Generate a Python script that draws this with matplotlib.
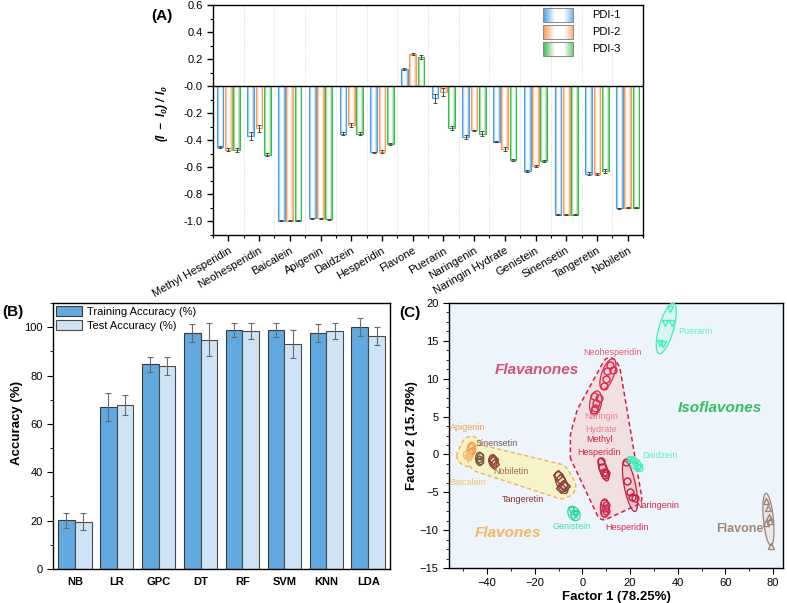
import numpy as np
import matplotlib
matplotlib.use('Agg')
import matplotlib.pyplot as plt
from matplotlib.patches import Polygon, Rectangle
from matplotlib.ticker import MultipleLocator
from matplotlib.colors import to_rgb

plt.rcParams['font.family'] = ['Liberation Sans', 'DejaVu Sans']
plt.rcParams['mathtext.fontset'] = 'custom'
plt.rcParams['mathtext.rm'] = 'Liberation Sans:italic:bold'
plt.rcParams['mathtext.it'] = 'Liberation Sans:italic:bold'
plt.rcParams['axes.linewidth'] = 1.0

# ---------------- Panel A data ----------------
compounds = ['Methyl Hesperidin', 'Neohesperidin', 'Baicalein', 'Apigenin', 'Daidzein',
             'Hesperidin', 'Flavone', 'Puerarin', 'Naringenin', 'Naringin Hydrate',
             'Genistein', 'Sinensetin', 'Tangeretin', 'Nobiletin']
pdi1 = [-0.45, -0.37, -0.995, -0.975, -0.35, -0.49, 0.128, -0.09, -0.375, -0.41, -0.627, -0.951, -0.646, -0.904]
pdi2 = [-0.47, -0.31, -0.995, -0.975, -0.285, -0.485, 0.238, -0.045, -0.327, -0.465, -0.59, -0.951, -0.651, -0.90]
pdi3 = [-0.47, -0.505, -0.995, -0.985, -0.35, -0.43, 0.215, -0.31, -0.35, -0.545, -0.553, -0.951, -0.627, -0.897]
err1 = [0.005, 0.03, 0.003, 0.004, 0.01, 0.005, 0.005, 0.035, 0.015, 0.006, 0.005, 0.003, 0.008, 0.004]
err2 = [0.01, 0.025, 0.003, 0.004, 0.015, 0.012, 0.01, 0.03, 0.005, 0.015, 0.01, 0.003, 0.008, 0.004]
err3 = [0.015, 0.01, 0.003, 0.004, 0.012, 0.008, 0.012, 0.015, 0.02, 0.008, 0.01, 0.003, 0.015, 0.004]
pdi_names = ['PDI-1', 'PDI-2', 'PDI-3']
pdi_colors = ['#4a9de0', '#f59a58', '#3cbb4c']

# ---------------- Panel B data ----------------
models = ['NB', 'LR', 'GPC', 'DT', 'RF', 'SVM', 'KNN', 'LDA']
train_acc = [20.1, 66.8, 84.6, 97.7, 98.9, 98.9, 97.7, 100.0]
train_err = [3.0, 5.8, 3.0, 3.7, 3.0, 3.0, 3.7, 3.7]
test_acc = [19.6, 67.7, 83.9, 94.8, 98.4, 93.1, 98.4, 96.3]
test_err = [3.6, 4.2, 3.6, 6.8, 3.4, 5.9, 3.4, 3.6]

# ---------------- Panel C data (factor scores) ----------------
puerarin_f1 = [36.9, 34.8, 37.8, 32.7, 33.8]
puerarin_f2 = [19.2, 17.4, 17.3, 14.7, 14.6]
neohesperidin_f1 = [11.5, 12.9, 10.3, 9.8, 9.0]
neohesperidin_f2 = [11.85, 11.2, 11.0, 9.9, 9.1]
naringin_hydrate_f1 = [4.9, 6.9, 5.9, 5.2, 4.8]
naringin_hydrate_f2 = [7.75, 7.4, 6.8, 6.1, 5.9]
methyl_hesperidin_f1 = [7.7, 8.4, 9.0, 9.4, 9.8]
methyl_hesperidin_f2 = [-0.9, -1.6, -2.3, -2.7, -2.5]
naringenin_f1 = [18.5, 18.7, 19.9, 20.8, 22.0]
naringenin_f2 = [-1.05, -3.55, -5.0, -5.6, -5.8]
hesperidin_f1 = [9.0, 9.8, 9.4, 9.8, 9.0]
hesperidin_f2 = [-6.4, -6.7, -7.1, -7.5, -7.7]
daidzein_f1 = [20.1, 21.3, 22.7, 23.8, 21.9, 23.4]
daidzein_f2 = [-0.7, -0.9, -1.1, -1.6, -1.4, -1.8]
genistein_f1 = [-4.6, -3.2, -3.9, -2.5]
genistein_f2 = [-7.3, -7.8, -8.2, -7.9]
flavone_f1 = [77.2, 77.9, 78.3, 78.6, 77.2, 79.3]
flavone_f2 = [-6.2, -7.1, -8.2, -8.8, -9.1, -12.1]
apigenin_f1 = [-46.6, -46.2, -47.0]
apigenin_f2 = [1.07, 0.63, 0.4]
baicalein_f1 = [-48.0, -47.4, -48.5]
baicalein_f2 = [0.0, -0.3, -0.15]
sinensetin_f1 = [-43.1, -43.0, -43.4]
sinensetin_f2 = [-0.25, -0.9, -0.6]
nobiletin_f1 = [-37.5, -37.7, -37.3]
nobiletin_f2 = [-0.9, -0.6, -1.2]
tangeretin_f1 = [-10.2, -9.5, -8.1, -8.8, -7.4]
tangeretin_f2 = [-2.7, -3.3, -4.0, -4.4, -4.2]

fig = plt.figure(figsize=(7.87, 6.03), dpi=100)
W, H = 787.0, 603.0


def rect(l, r, t, b):
    return [l / W, 1 - b / H, (r - l) / W, (b - t) / H]


def grad_img(color, n=64):
    c = np.array(to_rgb(color))
    t = np.linspace(0, 1, n)
    w = np.maximum(np.clip(1 - t / 0.38, 0, 1), np.clip((t - 0.68) / 0.32, 0, 1) * 0.8)
    rgb = c[None, :] * w[:, None] + (1 - w[:, None])
    return rgb[None, :, :]


# ================= Panel A =================
axA = fig.add_axes(rect(213, 643, 5, 235))
xA = np.arange(len(compounds))
bw = 0.22
offs = [-0.27, 0.0, 0.27]
for vals, errs, col, off in zip([pdi1, pdi2, pdi3], [err1, err2, err3], pdi_colors, offs):
    bars = axA.bar(xA + off, vals, width=bw, facecolor='none', edgecolor=col, lw=0.8, zorder=3)
    for b in bars:
        x0, y0, w, h = b.get_x(), b.get_y(), b.get_width(), b.get_height()
        im = axA.imshow(grad_img(col), extent=[x0, x0 + w, min(y0, y0 + h), max(y0, y0 + h)],
                        aspect='auto', zorder=2, interpolation='bilinear')
        im.set_clip_path(b)
    axA.errorbar(xA + off, vals, yerr=errs, fmt='none', ecolor='#333333', elinewidth=0.6,
                 capsize=1.5, capthick=0.6, zorder=4)
axA.axhline(0, color='black', lw=1.0, zorder=5)
for xv in np.arange(-0.5, len(compounds), 1.0):
    axA.axvline(xv, color='#d0d0d0', lw=0.6, ls=':', zorder=1)
axA.set_yticks(np.arange(-1.0, 0.61, 0.2))
axA.set_yticklabels(['%.1f' % v for v in np.arange(-1.0, 0.61, 0.2)], fontsize=8)
axA.yaxis.set_minor_locator(MultipleLocator(0.1))
axA.set_xticks(xA)
axA.set_xticks(np.arange(-0.5, len(compounds), 1.0), minor=True)
axA.set_xticklabels(compounds, rotation=30, ha='right', rotation_mode='anchor', fontsize=8)
axA.tick_params(axis='both', which='major', direction='out', length=4, width=1)
axA.tick_params(axis='both', which='minor', direction='out', length=2.5, width=0.8)
axA.set_ylabel(r'$(I\ -\ I_0)\ /\ I_0$', fontsize=8.5)
axA.yaxis.set_label_coords(-0.1, 0.53)
# legend (manual, gradient patches)
for i, (nm, col) in enumerate(zip(pdi_names, pdi_colors)):
    ytop = 1 - (8 + 17 * i - 5) / 230.0
    ybot = 1 - (22 + 17 * i - 5) / 230.0
    im = axA.imshow(grad_img(col), extent=[0.767, 0.837, ybot, ytop], transform=axA.transAxes,
                    aspect='auto', zorder=6, interpolation='bilinear')
    axA.add_patch(Rectangle((0.767, ybot), 0.07, ytop - ybot, transform=axA.transAxes,
                            facecolor='none', edgecolor='#888888', lw=0.7, zorder=7))
    axA.text(0.881, (ytop + ybot) / 2, nm, transform=axA.transAxes, fontsize=8, va='center', ha='left')
axA.set_xlim(-0.5, len(compounds) - 0.5)
axA.set_ylim(-1.1, 0.6)
fig.text(162 / W, 1 - 16 / H, '(A)', fontsize=11, fontweight='bold', ha='center', va='center')

# ================= Panel B =================
axB = fig.add_axes(rect(53, 390, 303, 569))
xB = np.arange(len(models))
axB.bar(xB - 0.2, train_acc, width=0.4, color='#62a9e0', edgecolor='#3a3a3a', lw=0.8,
        label='Training Accuracy (%)', zorder=2)
axB.bar(xB + 0.2, test_acc, width=0.4, color='#cfe3f6', edgecolor='#4a4a4a', lw=0.8,
        label='Test Accuracy (%)', zorder=2)
axB.errorbar(xB - 0.2, train_acc, yerr=train_err, fmt='none', ecolor='#6a6a6a', elinewidth=0.8,
             capsize=2.5, capthick=0.8, zorder=3)
axB.errorbar(xB + 0.2, test_acc, yerr=test_err, fmt='none', ecolor='#6a6a6a', elinewidth=0.8,
             capsize=2.5, capthick=0.8, zorder=3)
axB.set_xlim(-0.52, len(models) - 0.48)
axB.set_ylim(0, 110)
axB.set_xticks(xB)
axB.set_xticklabels(models, fontsize=8, fontweight='bold')
axB.yaxis.set_major_locator(MultipleLocator(20))
axB.yaxis.set_minor_locator(MultipleLocator(10))
axB.tick_params(axis='y', labelsize=8)
axB.tick_params(axis='both', which='major', direction='out', length=4)
axB.tick_params(axis='x', which='major', length=0, pad=6)
axB.tick_params(axis='both', which='minor', direction='out', length=2.5)
axB.set_ylabel('Accuracy (%)', fontsize=9.5, fontweight='bold')
axB.yaxis.set_label_coords(-0.09, 0.55)
axB.legend(loc='upper left', frameon=False, fontsize=8, handlelength=2.4, handleheight=1.1,
           borderaxespad=0.15, borderpad=0.1, labelspacing=0.25, handletextpad=0.4)
fig.text(13 / W, 1 - 312 / H, '(B)', fontsize=11, fontweight='bold', ha='center', va='center')

# ================= Panel C =================
axC = fig.add_axes(rect(449, 783, 303, 568))
axC.set_facecolor('#eef4fb')
axC.set_xlim(-56, 84.2)
axC.set_ylim(-15, 20)
renderer = fig.canvas.get_renderer()


def pix(xs, ys):
    return axC.transData.transform(np.column_stack([xs, ys]))


def unpix(P):
    return axC.transData.inverted().transform(P)


def convex_hull(P):
    pts = sorted(map(tuple, P))
    def cross(o, a, b):
        return (a[0] - o[0]) * (b[1] - o[1]) - (a[1] - o[1]) * (b[0] - o[0])
    lower, upper = [], []
    for p in pts:
        while len(lower) >= 2 and cross(lower[-2], lower[-1], p) <= 0:
            lower.pop()
        lower.append(p)
    for p in reversed(pts):
        while len(upper) >= 2 and cross(upper[-2], upper[-1], p) <= 0:
            upper.pop()
        upper.append(p)
    return np.array(lower[:-1] + upper[:-1])


def envelope_pix(P, pad):
    th = np.linspace(0, 2 * np.pi, 48, endpoint=False)
    circ = np.stack([np.cos(th), np.sin(th)], 1)
    Q = (P[:, None, :] + pad * circ[None]).reshape(-1, 2)
    return unpix(convex_hull(Q))


def cluster_ellipse(xs, ys, nstd=1.5, pad=3.0, minr=4.0):
    P = pix(xs, ys)
    m = P.mean(0)
    C = np.cov(P.T)
    vals, vecs = np.linalg.eigh(C)
    r = np.sqrt(np.maximum(vals, 0)) * nstd + pad
    r = np.maximum(r, minr)
    th = np.linspace(0, 2 * np.pi, 120)
    E = m + (vecs @ np.vstack([r[0] * np.cos(th), r[1] * np.sin(th)])).T
    return unpix(E)


clusters = [
    (puerarin_f1, puerarin_f2, 'v', '#3ff0c0'),
    (neohesperidin_f1, neohesperidin_f2, 'o', '#dc2a4c'),
    (naringin_hydrate_f1, naringin_hydrate_f2, 'o', '#d8304c'),
    (methyl_hesperidin_f1, methyl_hesperidin_f2, 'o', '#c81e40'),
    (naringenin_f1, naringenin_f2, 'o', '#c81e40'),
    (hesperidin_f1, hesperidin_f2, 'o', '#d0264a'),
    (daidzein_f1, daidzein_f2, 'v', '#3ff0c0'),
    (genistein_f1, genistein_f2, 'v', '#2fd8a0'),
    (flavone_f1, flavone_f2, '^', '#a08472'),
    (apigenin_f1, apigenin_f2, 'p', '#f0a050'),
    (baicalein_f1, baicalein_f2, '*', '#f5c070'),
    (sinensetin_f1, sinensetin_f2, 'h', '#7a5a44'),
    (nobiletin_f1, nobiletin_f2, 'D', '#94463c'),
    (tangeretin_f1, tangeretin_f2, 'D', '#8a3c36'),
]

label_text = ['Puerarin', 'Neohesperidin', 'Naringin\nHydrate', 'Methyl\nHesperidin', 'Daidzein',
              'Apigenin', 'Sinensetin', 'Nobiletin', 'Baicalein', 'Tangeretin', 'Naringenin',
              'Genistein', 'Hesperidin']
label_x = [40.1, 12.4, 7.7, 7.0, 25.2, -48.0, -36.0, -30.0, -48.0, -25.2, 31.5, -4.6, 18.9]
label_y = [16.3, 13.4, 4.15, 1.1, -0.2, 3.6, 1.4, -2.2, -3.7, -6.0, -6.7, -9.5, -9.6]
label_ha = ['left', 'center', 'center', 'center', 'left', 'center', 'center', 'center', 'center',
            'center', 'center', 'center', 'center']
label_col = ['#5cf0cc', '#e25a70', '#ec8090', '#d02444', '#5cf0cc', '#f0a050', '#7a5a44',
             '#a8684c', '#f5c070', '#8a3030', '#d02444', '#40e0b0', '#d8284c']
label_objs = {}
for t, x, y, ha, c in zip(label_text, label_x, label_y, label_ha, label_col):
    label_objs[t] = axC.text(x, y, t, ha=ha, va='center', fontsize=6.5, color=c, zorder=6,
                             linespacing=1.5)

# group envelopes
flavanone_x = neohesperidin_f1 + naringin_hydrate_f1 + methyl_hesperidin_f1 + naringenin_f1 + hesperidin_f1
flavanone_y = neohesperidin_f2 + naringin_hydrate_f2 + methyl_hesperidin_f2 + naringenin_f2 + hesperidin_f2
P = pix(flavanone_x, flavanone_y)
bbs = [label_objs[k].get_window_extent(renderer) for k in ['Naringin\nHydrate', 'Methyl\nHesperidin']]
extra = np.array([[bb.x0, bb.y0] for bb in bbs] + [[bb.x0, bb.y1] for bb in bbs])
env = envelope_pix(np.vstack([P, extra]), 7)
axC.add_patch(Polygon(env, closed=True, facecolor='#f3dcdc', edgecolor='none', alpha=0.8, zorder=1))
axC.add_patch(Polygon(env, closed=True, facecolor='none', edgecolor='#d42040', lw=1.1, ls=(0, (3, 2)), zorder=2))
env = envelope_pix(pix(apigenin_f1 + baicalein_f1, apigenin_f2 + baicalein_f2), 10)
axC.add_patch(Polygon(env, closed=True, facecolor='#fbefc4', edgecolor='#f0b060', lw=1.0, ls=(0, (3, 2)), zorder=1))
env = envelope_pix(pix(sinensetin_f1 + nobiletin_f1 + tangeretin_f1, sinensetin_f2 + nobiletin_f2 + tangeretin_f2), 11)
axC.add_patch(Polygon(env, closed=True, facecolor='#f6f3c6', edgecolor='#f0b060', lw=1.0, ls=(0, (3, 2)), zorder=1))

for xs, ys, mk, col in clusters:
    E = cluster_ellipse(xs, ys)
    axC.add_patch(Polygon(E, closed=True, facecolor=col, alpha=0.10, edgecolor='none', zorder=2))
    axC.add_patch(Polygon(E, closed=True, facecolor='none', edgecolor=col, lw=0.9, zorder=3))
    axC.plot(xs, ys, ls='none', marker=mk, ms=5, mfc='none', mec=col, mew=1.0, zorder=4)

class_text = ['Flavanones', 'Isoflavones', 'Flavones']
class_x = [-19.3, 57.9, -31.2]
class_y = [11.2, 6.1, -10.4]
class_col = ['#d8506a', '#34c060', '#f0b860']
for t, x, y, c in zip(class_text, class_x, class_y, class_col):
    axC.text(x, y, t, ha='center', va='center', fontsize=11, fontweight='bold', fontstyle='italic',
             color=c, zorder=6)
axC.text(66.0, -9.9, 'Flavone', ha='center', va='center', fontsize=9, fontweight='bold',
         color='#a08878', zorder=6)

axC.xaxis.set_major_locator(MultipleLocator(20))
axC.xaxis.set_minor_locator(MultipleLocator(10))
axC.yaxis.set_major_locator(MultipleLocator(5))
axC.yaxis.set_minor_locator(MultipleLocator(1.25))
axC.tick_params(labelsize=8)
axC.tick_params(axis='both', which='major', direction='out', length=4)
axC.tick_params(axis='both', which='minor', direction='out', length=2.5)
axC.set_xlabel('Factor 1 (78.25%)', fontsize=9.5, fontweight='bold', labelpad=2)
axC.set_ylabel('Factor 2 (15.78%)', fontsize=9.5, fontweight='bold')
axC.yaxis.set_label_coords(-0.093, 0.5)
axC.set_xlim(-56, 84.2)
axC.set_ylim(-15, 20)
fig.text(410 / W, 1 - 313 / H, '(C)', fontsize=11, fontweight='bold', ha='center', va='center')

fig.savefig('out.png', dpi=100)
